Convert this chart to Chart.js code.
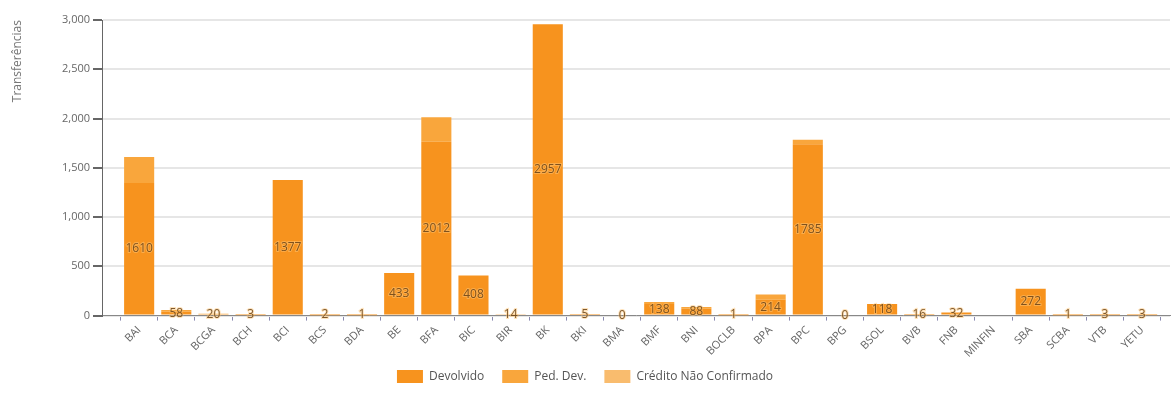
<!DOCTYPE html>
<html>
<head>
<meta charset="utf-8">
<script src="https://cdn.jsdelivr.net/npm/chart.js@4/dist/chart.umd.min.js"></script>
<style>
  html, body { margin: 0; padding: 0; background: #ffffff; }
  #wrap { width: 1173px; height: 409px; position: relative; }
</style>
</head>
<body>
<div id="wrap"><canvas id="c" width="1173" height="409"></canvas></div>
<script>
const categories = ['BAI','BCA','BCGA','BCH','BCI','BCS','BDA','BE','BFA','BIC','BIR','BK','BKI','BMA','BMF','BNI','BOCLB','BPA','BPC','BPG','BSOL','BVB','FNB','MINFIN','SBA','SCBA','VTB','YETU'];
const devolvido = [1345, 38, 14, 3, 1377, 2, 1, 433, 1765, 408, 14, 2957, 5, 0, 118, 70, 1, 160, 1740, 0, 118, 16, 32, null, 272, 1, 3, 3];
const pedDev = [265, 20, 6, 0, 0, 0, 0, 0, 247, 0, 0, 0, 0, 0, 20, 18, 0, 54, 45, 0, 0, 0, 0, null, 0, 0, 0, 0];
const creditoNaoConfirmado = [0, 0, 0, 0, 0, 0, 0, 0, 0, 0, 0, 0, 0, 0, 0, 0, 0, 0, 0, 0, 0, 0, 0, null, 0, 0, 0, 0];
const yTicks = [0, 500, 1000, 1500, 2000, 2500, 3000];
const seriesNames = ['Devolvido', 'Ped. Dev.', 'Crédito Não Confirmado'];
const seriesColors = ['#F7931E', '#F9A63C', '#F9BC6E'];

const toPoints = arr => arr.map((v, i) => ({ x: i, y: v }));
const totals = categories.map((_, i) => {
  if (devolvido[i] === null) return null;
  return (devolvido[i] || 0) + (pedDev[i] || 0) + (creditoNaoConfirmado[i] || 0);
});

const totalLabels = {
  id: 'totalLabels',
  afterDatasetsDraw(chart) {
    const meta = chart.getDatasetMeta(0);
    const ctx = chart.ctx;
    ctx.save();
    ctx.font = '12px "Open Sans", sans-serif';
    ctx.textAlign = 'center';
    ctx.textBaseline = 'middle';
    meta.data.forEach((el, i) => {
      if (totals[i] === null) return;
      const y = (el.y + el.base) / 2;
      ctx.lineWidth = 2;
      ctx.strokeStyle = 'rgba(255,200,120,0.5)';
      ctx.strokeText(String(totals[i]), el.x, y);
      ctx.fillStyle = 'rgba(105,65,20,0.85)';
      ctx.fillText(String(totals[i]), el.x, y);
    });
    ctx.restore();
  }
};

new Chart(document.getElementById('c'), {
  type: 'bar',
  data: {
    datasets: [
      { label: seriesNames[0], data: toPoints(devolvido), backgroundColor: seriesColors[0] },
      { label: seriesNames[1], data: toPoints(pedDev), backgroundColor: seriesColors[1] },
      { label: seriesNames[2], data: toPoints(creditoNaoConfirmado), backgroundColor: seriesColors[2] }
    ]
  },
  options: {
    responsive: false,
    animation: false,
    devicePixelRatio: 1,
    layout: { padding: { left: 0, right: 3, top: 20, bottom: 16 } },
    datasets: { bar: { barPercentage: 0.81, categoryPercentage: 1 } },
    plugins: {
      legend: {
        position: 'bottom',
        labels: {
          boxWidth: 26, boxHeight: 13, padding: 18,
          color: '#555', font: { family: '"Open Sans", sans-serif', size: 12 }
        }
      },
      tooltip: { enabled: false }
    },
    scales: {
      x: {
        type: 'linear',
        stacked: true,
        offset: false,
        min: -1,
        max: 27.75,
        afterBuildTicks: scale => { scale.ticks = categories.map((_, i) => ({ value: i })); },
        afterFit: scale => {
          scale.height = scale.height - 11;
          scale._computeLabelArea = function () { return undefined; };
        },
        grid: { drawOnChartArea: false, tickLength: 5, color: '#8a8ab0', tickColor: '#8a8ab0' },
        border: { color: '#888', width: 1 },
        ticks: {
          autoSkip: false, minRotation: 45, maxRotation: 45, padding: 3,
          color: '#666', font: { family: '"Open Sans", sans-serif', size: 11 },
          callback: v => categories[v] !== undefined ? categories[v] : ''
        }
      },
      y: {
        stacked: true,
        min: 0,
        max: 3000,
        afterBuildTicks: scale => { scale.ticks = yTicks.map(v => ({ value: v })); },
        afterFit: scale => { scale.width = 102; },
        grid: { color: '#e6e6e6', lineWidth: 2, tickLength: 9, tickColor: '#666' },
        border: { color: '#666', width: 1 },
        ticks: {
          padding: 3, color: '#666', font: { family: '"Open Sans", sans-serif', size: 11 },
          callback: v => v.toLocaleString('en-US')
        },
        title: {
          display: true, text: 'Transferências', align: 'end',
          color: '#777', font: { family: '"Open Sans", sans-serif', size: 12 },
          padding: { top: 10, bottom: 0 }
        }
      }
    }
  },
  plugins: [totalLabels]
});
</script>
</body>
</html>
